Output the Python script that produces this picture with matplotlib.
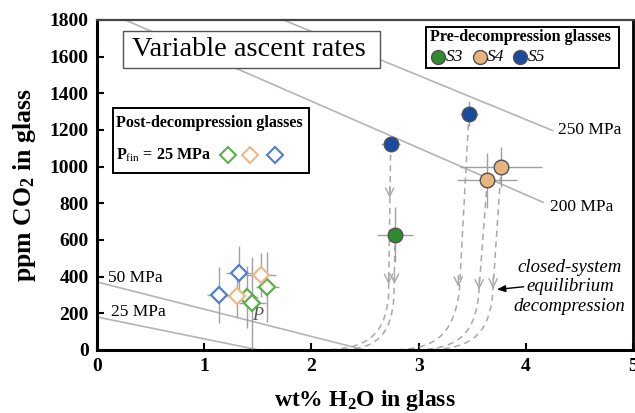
import matplotlib
matplotlib.use("Agg")
import matplotlib.pyplot as plt
from matplotlib.patches import Rectangle
from matplotlib.path import Path
from matplotlib.patches import PathPatch

plt.rcParams['font.family'] = ['Liberation Serif', 'DejaVu Serif']
plt.rcParams['mathtext.fontset'] = 'custom'
plt.rcParams['mathtext.rm'] = 'Liberation Serif'
plt.rcParams['mathtext.it'] = 'Liberation Serif:italic'
plt.rcParams['mathtext.bf'] = 'Liberation Serif:bold'

# ---------------- data ----------------
# pre-decompression glasses (filled circles)
pre_series = ['S3', 'S4', 'S5']
pre_colors = {'S3': '#2e8b2e', 'S4': '#e8b47e', 'S5': '#1b4ba0'}
pre_x = {'S3': [2.78], 'S4': [3.77, 3.64], 'S5': [2.74, 3.47]}
pre_y = {'S3': [630], 'S4': [1000, 925], 'S5': [1125, 1290]}
pre_xerr = {'S3': [0.17], 'S4': [0.38, 0.28], 'S5': [0.09, 0.08]}
pre_yerr = {'S3': [150], 'S4': [110, 150], 'S5': [40, 70]}

# post-decompression glasses (open diamonds), Pfin = 25 MPa
post_colors = {'S3': '#5cb04a', 'S4': '#ebb98a', 'S5': '#4f7fd0'}
post_x = {'S3': [1.40, 1.45, 1.59], 'S4': [1.31, 1.53], 'S5': [1.14, 1.32]}
post_y = {'S3': [290, 257, 345], 'S4': [295, 410], 'S5': [300, 420]}
post_xerr = {'S3': [0.10, 0.13, 0.11], 'S4': [0.10, 0.14], 'S5': [0.11, 0.12]}
post_yerr = {'S3': [170, 250, 190], 'S4': [115, 120], 'S5': [155, 150]}

# isobars: (label, x_start, y_start, x_end, y_end)
isobar_labels = ['25 MPa', '50 MPa', '200 MPa', '250 MPa']
isobar_x0 = [0.0, 0.0, 0.264, 1.74]
isobar_y0 = [180, 371, 1800, 1800]
isobar_x1 = [1.51, 2.50, 4.16, 4.25]
isobar_y1 = [0, 0, 806, 1197]

# closed-system decompression paths: top point, knee, two bezier controls, foot
path_top = [(2.74, 1125), (2.78, 630), (3.47, 1290), (3.64, 925), (3.77, 1000)]
path_knee = [(2.72, 300), (2.77, 290), (3.38, 320), (3.56, 300), (3.69, 300)]
path_c1 = [(2.69, 70), (2.74, 60), (3.32, 60), (3.52, 60), (3.65, 60)]
path_c2 = [(2.50, 4), (2.58, 4), (3.12, 4), (3.32, 4), (3.45, 4)]
path_foot = [(2.10, 0), (2.25, 0), (2.75, 0), (2.95, 0), (3.05, 0)]
arrow_pts = [(2.73, 830), (2.72, 360), (2.775, 360), (3.37, 345), (3.565, 330), (3.695, 335)]

x_ticks = [0, 1, 2, 3, 4, 5]
y_ticks = list(range(0, 1801, 200))

# ---------------- figure ----------------
fig = plt.figure(figsize=(6.35, 4.13), dpi=100)
ax = fig.add_axes([97/635, 1-350/413, (633-97)/635, (350-20)/413])
ax.set_xlim(0, 5)
ax.set_ylim(0, 1800)

gray = '#b4b4b4'
# isobars
for lab, xa, ya, xb, yb in zip(isobar_labels, isobar_x0, isobar_y0, isobar_x1, isobar_y1):
    ax.plot([xa, xb], [ya, yb], color=gray, lw=1.2, zorder=1)
ax.text(4.30, 1200, '250 MPa', fontsize=12.5, va='center', ha='left')
ax.text(4.23, 780, '200 MPa', fontsize=12.5, va='center', ha='left')
ax.text(0.10, 395, '50 MPa', fontsize=12.5, va='center', ha='left')
ax.text(0.13, 207, '25 MPa', fontsize=12.5, va='center', ha='left')

# decompression paths
dcol = '#a8a8a8'
for top, knee, c1, c2, foot in zip(path_top, path_knee, path_c1, path_c2, path_foot):
    verts = [top, knee, c1, c2, foot, (1.8, 0)]
    codes = [Path.MOVETO, Path.LINETO, Path.CURVE4, Path.CURVE4, Path.CURVE4, Path.LINETO]
    pp = PathPatch(Path(verts, codes), facecolor='none', edgecolor=dcol,
                   lw=1.1, ls=(0, (4, 3)), zorder=2)
    ax.add_patch(pp)
for (xa, ya) in arrow_pts:
    ax.annotate('', xy=(xa, ya), xytext=(xa, ya + 60),
                arrowprops=dict(arrowstyle='->,head_length=0.6,head_width=0.3',
                                color=dcol, lw=1.0, shrinkA=0, shrinkB=0), zorder=2)

# P label
ax.text(1.50, 190, 'P', fontsize=13, style='italic', color='#555555', ha='center', va='center')

# error bars and points
for s in pre_series:
    ax.errorbar(post_x[s], post_y[s], xerr=post_xerr[s], yerr=post_yerr[s], fmt='none',
                ecolor='#a0a0a0', elinewidth=1.0, capsize=0, zorder=3)
for s in pre_series:
    ax.errorbar(pre_x[s], pre_y[s], xerr=pre_xerr[s], yerr=pre_yerr[s], fmt='none',
                ecolor='#a0a0a0', elinewidth=1.0, capsize=0, zorder=3)
for s in pre_series:
    ax.plot(post_x[s], post_y[s], ls='none', marker='D', ms=8.5, mfc='white',
            mec=post_colors[s], mew=1.6, zorder=4)
for s in pre_series:
    ax.plot(pre_x[s], pre_y[s], ls='none', marker='o', ms=10.5, mfc=pre_colors[s],
            mec='#505050', mew=1.0, zorder=5)

# closed-system text + arrow
ax.text(4.41, 344, 'closed-system\nequilibrium\ndecompression', fontsize=13.5,
        style='italic', ha='center', va='center', linespacing=1.2, zorder=6)
ax.annotate('', xy=(3.73, 330), xytext=(3.98, 345),
            arrowprops=dict(arrowstyle='-|>,head_length=0.5,head_width=0.2',
                            color='black', lw=1.0, shrinkA=0, shrinkB=0))

# title box
ax.add_patch(Rectangle((0.243, 1538), 2.64 - 0.243, 1740 - 1538, facecolor='white',
                       edgecolor='#555555', lw=1.0, zorder=6))
ax.text(0.33, 1640, 'Variable ascent rates', fontsize=20.5, ha='left', va='center', zorder=7)

# pre-decompression legend
ax.add_patch(Rectangle((3.07, 1538), 4.87 - 3.07, 1762 - 1538, facecolor='white',
                       edgecolor='black', lw=1.4, zorder=6))
ax.text(3.11, 1705, 'Pre-decompression glasses', fontsize=11.6, fontweight='bold',
        ha='left', va='center', zorder=7)
leg_x = [3.18, 3.57, 3.95]
for s, lx in zip(pre_series, leg_x):
    ax.plot([lx], [1598], marker='o', ms=10, mfc=pre_colors[s], mec='#505050', mew=1.0,
            ls='none', zorder=7)
    ax.text(lx + 0.07, 1598, s, fontsize=12.5, style='italic', ha='left', va='center', zorder=7)

# post-decompression legend
ax.add_patch(Rectangle((0.15, 965), 1.98 - 0.15, 1320 - 965, facecolor='white',
                       edgecolor='black', lw=1.4, zorder=6))
ax.text(0.18, 1238, 'Post-decompression glasses', fontsize=11.6, fontweight='bold',
        ha='left', va='center', zorder=7)
ax.text(0.18, 1060, r'P$_{\mathrm{fin}}$ = 25 MPa', fontsize=11.6, fontweight='bold',
        ha='left', va='center', zorder=7)
pleg_x = [1.22, 1.43, 1.66]
for s, lx in zip(pre_series, pleg_x):
    ax.plot([lx], [1064], marker='D', ms=8, mfc='white', mec=post_colors[s], mew=1.5,
            ls='none', zorder=7)

# axes styling
ax.set_xticks(x_ticks)
ax.set_yticks(y_ticks)
ax.tick_params(direction='in', length=5, width=1.5, labelsize=14, pad=6)
for lab in ax.get_xticklabels() + ax.get_yticklabels():
    lab.set_fontweight('bold')
for side in ['left', 'bottom']:
    ax.spines[side].set_linewidth(2.2)
ax.spines['right'].set_linewidth(2.0)
ax.spines['top'].set_linewidth(1.6)
ax.spines['top'].set_color('#444444')

ax.set_xlabel(r'wt% H$_{\mathbf{2}}$O in glass', fontsize=17, fontweight='bold', labelpad=9)
ax.set_ylabel(r'ppm CO$_{\mathbf{2}}$ in glass', fontsize=18.5, fontweight='bold', labelpad=8)

fig.savefig('out.png', dpi=100)
